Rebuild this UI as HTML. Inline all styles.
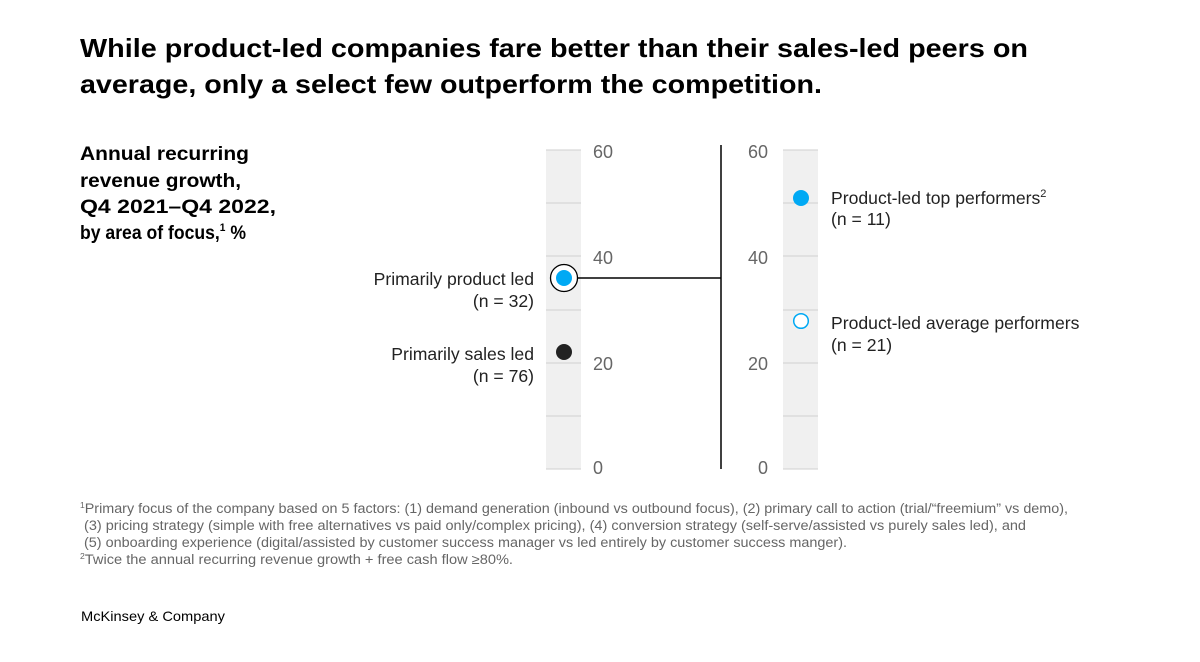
<!DOCTYPE html>
<html><head><meta charset="utf-8"><style>
html,body{margin:0;padding:0;background:#fff;}
svg{display:block;font-family:"Liberation Sans",Arial,sans-serif;}
</style></head><body>
<svg width="1200" height="662" viewBox="0 0 1200 662">
<g font-size="26" font-weight="bold" fill="#000">
<text x="80" y="57" textLength="948" lengthAdjust="spacingAndGlyphs">While product-led companies fare better than their sales-led peers on</text>
<text x="80" y="93" textLength="742" lengthAdjust="spacingAndGlyphs">average, only a select few outperform the competition.</text>
</g>
<g font-size="19" font-weight="bold" fill="#000">
<text x="80" y="160" textLength="169" lengthAdjust="spacingAndGlyphs">Annual recurring</text>
<text x="80" y="187" textLength="161" lengthAdjust="spacingAndGlyphs">revenue growth,</text>
<text x="80" y="213" textLength="196" lengthAdjust="spacingAndGlyphs">Q4 2021–Q4 2022,</text>
<text x="80" y="239" textLength="166" lengthAdjust="spacingAndGlyphs">by area of focus,<tspan font-size="11" dy="-8">1</tspan><tspan dy="8"> %</tspan></text>
</g>
<rect x="546" y="150" width="35" height="319" fill="#f0f0f0"/>
<rect x="783" y="150" width="35" height="319" fill="#f0f0f0"/>
<g stroke="#cfcfcf" stroke-width="1">
<line x1="546" x2="581" y1="150" y2="150"/><line x1="546" x2="581" y1="203" y2="203"/><line x1="546" x2="581" y1="256" y2="256"/><line x1="546" x2="581" y1="310" y2="310"/><line x1="546" x2="581" y1="363" y2="363"/><line x1="546" x2="581" y1="416" y2="416"/><line x1="546" x2="581" y1="469" y2="469"/>
<line x1="783" x2="818" y1="150" y2="150"/><line x1="783" x2="818" y1="203" y2="203"/><line x1="783" x2="818" y1="256" y2="256"/><line x1="783" x2="818" y1="310" y2="310"/><line x1="783" x2="818" y1="363" y2="363"/><line x1="783" x2="818" y1="416" y2="416"/><line x1="783" x2="818" y1="469" y2="469"/>
</g>
<g font-size="18" fill="#666">
<text x="593" y="158">60</text><text x="593" y="264">40</text><text x="593" y="370">20</text><text x="593" y="474">0</text>
<text x="748" y="158">60</text><text x="748" y="264">40</text><text x="748" y="370">20</text><text x="758" y="474">0</text>
</g>
<line x1="578" y1="278" x2="721" y2="278" stroke="#000" stroke-width="1.5"/>
<line x1="721" y1="145" x2="721" y2="469" stroke="#000" stroke-width="1.5"/>
<circle cx="564" cy="278" r="13.5" fill="#fff" stroke="#000" stroke-width="1.3"/>
<circle cx="564" cy="278" r="8" fill="#00a9f4"/>
<circle cx="564" cy="352" r="8" fill="#222"/>
<circle cx="801" cy="198" r="8" fill="#00a9f4"/>
<circle cx="801" cy="321" r="7.3" fill="#fff" stroke="#00a9f4" stroke-width="1.5"/>
<g font-size="17.6" fill="#222">
<text x="534" y="285" text-anchor="end">Primarily product led</text>
<text x="534" y="307" text-anchor="end">(n = 32)</text>
<text x="534" y="360" text-anchor="end">Primarily sales led</text>
<text x="534" y="382" text-anchor="end">(n = 76)</text>
<text x="831" y="204">Product-led top performers<tspan font-size="11" dy="-7">2</tspan></text>
<text x="831" y="225">(n = 11)</text>
<text x="831" y="329">Product-led average performers</text>
<text x="831" y="351">(n = 21)</text>
</g>
<g font-size="13.5" fill="#666">
<text x="80" y="513" textLength="988" lengthAdjust="spacingAndGlyphs"><tspan font-size="8" dy="-5">1</tspan><tspan dy="5">Primary focus of the company based on 5 factors: (1) demand generation (inbound vs outbound focus), (2) primary call to action (trial/“freemium” vs demo),</tspan></text>
<text x="84" y="530" textLength="942" lengthAdjust="spacingAndGlyphs">(3) pricing strategy (simple with free alternatives vs paid only/complex pricing), (4) conversion strategy (self-serve/assisted vs purely sales led), and</text>
<text x="84" y="547" textLength="763" lengthAdjust="spacingAndGlyphs">(5) onboarding experience (digital/assisted by customer success manager vs led entirely by customer success manger).</text>
<text x="80" y="564" textLength="433" lengthAdjust="spacingAndGlyphs"><tspan font-size="8" dy="-5">2</tspan><tspan dy="5">Twice the annual recurring revenue growth + free cash flow ≥80%.</tspan></text>
</g>
<text x="81" y="621" font-size="14" fill="#000" textLength="144" lengthAdjust="spacingAndGlyphs">McKinsey &amp; Company</text>
</svg>
</body></html>
